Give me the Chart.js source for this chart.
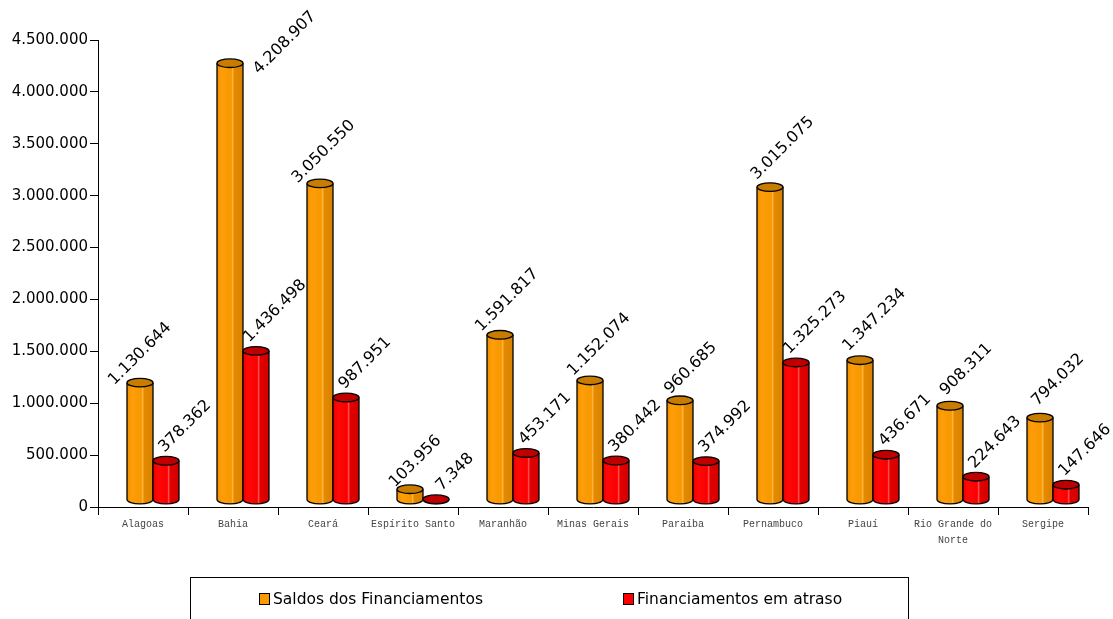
<!DOCTYPE html>
<html>
<head>
<meta charset="utf-8">
<script src="https://cdn.jsdelivr.net/npm/chart.js@4/dist/chart.umd.min.js"></script>
<style>
  html, body { margin: 0; padding: 0; background: #fff; }
  canvas { display: block; }
</style>
</head>
<body>
<canvas id="c" width="1113" height="619"></canvas>
<script>
const categories = ["Alagoas", "Bahia", "Ceará", "Espírito Santo", "Maranhão", "Minas Gerais", "Paraíba", "Pernambuco", "Piauí", ["Rio Grande do", "Norte"], "Sergipe"];
const seriesNames = ["Saldos dos Financiamentos", "Financiamentos em atraso"];
const saldos = [1130644, 4208907, 3050550, 103956, 1591817, 1152074, 960685, 3015075, 1347234, 908311, 794032];
const atraso = [378362, 1436498, 987951, 7348, 453171, 380442, 374992, 1325273, 436671, 224643, 147646];
const yMin = 0;
const yMax = 4500000;
const yStep = 500000;

function fmt(n) { return String(Math.round(n)).replace(/\B(?=(\d{3})+(?!\d))/g, "."); }

const DX = 10, DY = -7;
const styles = [
  { base: "#FF9900", top: "#C87C00", stops: [[0, "#F29100"], [0.2, "#FF9E08"], [0.55, "#F69800"], [0.6, "#FFB540"], [0.66, "#E38A00"], [1, "#D98200"]] },
  { base: "#FF0000", top: "#C00000", stops: [[0, "#EC0000"], [0.2, "#FF0808"], [0.55, "#FA0000"], [0.6, "#FF5050"], [0.66, "#E20000"], [1, "#D20000"]] }
];

function drawCylinder(ctx, x, y, base, w, st) {
  const left = x - w / 2, right = x + w / 2, rx = w / 2, ry = 4.3;
  const g = ctx.createLinearGradient(left, 0, right, 0);
  st.stops.forEach(s => g.addColorStop(s[0], s[1]));
  ctx.beginPath();
  ctx.moveTo(left, y);
  ctx.lineTo(left, base);
  ctx.ellipse(x, base, rx, ry, 0, Math.PI, 0, true);
  ctx.lineTo(right, y);
  ctx.ellipse(x, y, rx, ry, 0, 0, Math.PI, false);
  ctx.closePath();
  ctx.fillStyle = g;
  ctx.fill();
  ctx.lineWidth = 1.3;
  ctx.strokeStyle = "#000";
  ctx.beginPath();
  ctx.moveTo(left, y);
  ctx.lineTo(left, base);
  ctx.ellipse(x, base, rx, ry, 0, Math.PI, 0, true);
  ctx.lineTo(right, y);
  ctx.stroke();
  ctx.beginPath();
  ctx.ellipse(x, y, rx, ry, 0, 0, Math.PI * 2);
  ctx.fillStyle = st.top;
  ctx.fill();
  ctx.stroke();
}

const cylinderPlugin = {
  id: "cyl",
  beforeDatasetsDraw(chart) {
    const ctx = chart.ctx;
    ctx.save();
    ctx.translate(DX, DY);
    chart.data.datasets.forEach((ds, i) => {
      const meta = chart.getDatasetMeta(i);
      meta.data.forEach(bar => {
        const p = bar.getProps(["x", "y", "base", "width"], true);
        drawCylinder(ctx, p.x, p.y, p.base, p.width, styles[i]);
      });
    });
    ctx.restore();
    return false;
  },
  afterDraw(chart) {
    const ctx = chart.ctx;
    const left = chart.chartArea.left;
    // value labels
    ctx.save();
    ctx.font = "16px 'DejaVu Sans'";
    ctx.fillStyle = "#000";
    ctx.textAlign = "center";
    ctx.textBaseline = "middle";
    chart.data.datasets.forEach((ds, i) => {
      const meta = chart.getDatasetMeta(i);
      meta.data.forEach((bar, j) => {
        const p = bar.getProps(["x", "y", "width"], true);
        const txt = fmt(ds.data[j]);
        const W = ctx.measureText(txt).width;
        const ext = W / 2 * Math.SQRT1_2;
        let cx = p.x + DX;
        let cy = p.y + DY - ext - 4;
        const rel = cx - left - 42;
        if (i === 0) { cx += 0.02 * rel; cy += 4 - 0.016 * rel; }
        else { cx += 19; cy -= 7; }
        if (cy - ext < 12) {
          cy = ext + 14;
          cx = p.x + DX + p.width / 2 + ext + 13;
        }
        ctx.save();
        ctx.translate(cx, cy);
        ctx.rotate(-Math.PI / 4);
        ctx.fillText(txt, 0, 0);
        ctx.restore();
      });
    });
    ctx.restore();
    // legend
    ctx.save();
    ctx.strokeStyle = "#000";
    ctx.lineWidth = 1;
    ctx.strokeRect(190.5, 577.5, 718, 60);
    ctx.font = "15.5px 'DejaVu Sans'";
    ctx.textBaseline = "middle";
    ctx.textAlign = "left";
    const items = [{ x: 259 }, { x: 623 }];
    chart.data.datasets.forEach((ds, i) => {
      const sx = items[i].x;
      ctx.fillStyle = styles[i].base;
      ctx.fillRect(sx + 0.5, 593.5, 10, 11);
      ctx.strokeStyle = "#000";
      ctx.strokeRect(sx + 0.5, 593.5, 10, 11);
      ctx.fillStyle = "#000";
      ctx.fillText(ds.label, sx + 14, 599.5);
    });
    ctx.restore();
  }
};

new Chart(document.getElementById("c"), {
  type: "bar",
  data: {
    labels: categories,
    datasets: [
      { label: seriesNames[0], data: saldos, backgroundColor: styles[0].base },
      { label: seriesNames[1], data: atraso, backgroundColor: styles[1].base }
    ]
  },
  options: {
    responsive: false,
    animation: false,
    layout: { padding: { top: 40, right: 25, left: 0, bottom: 67 } },
    plugins: { legend: { display: false }, tooltip: { enabled: false } },
    datasets: { bar: { categoryPercentage: 52 / 90, barPercentage: 1 } },
    scales: {
      x: {
        afterFit(s) { s.height = 45; },
        grid: { offset: true, drawOnChartArea: false, drawTicks: true, tickLength: 8, color: "#000" },
        border: { color: "#000", width: 1 },
        ticks: { font: { family: "'Liberation Mono'", size: 10, lineHeight: 1.6 }, color: "#444", padding: 1, maxRotation: 0, autoSkip: false }
      },
      y: {
        min: yMin, max: yMax,
        afterFit(s) { s.width = 98; },
        grid: { drawOnChartArea: false, drawTicks: true, tickLength: 8, color: "#000" },
        border: { color: "#000", width: 1 },
        ticks: { stepSize: yStep, callback: v => fmt(v), font: { family: "'DejaVu Sans'", size: 15 }, color: "#000", padding: 2 }
      }
    }
  },
  plugins: [cylinderPlugin]
});
</script>
</body>
</html>
